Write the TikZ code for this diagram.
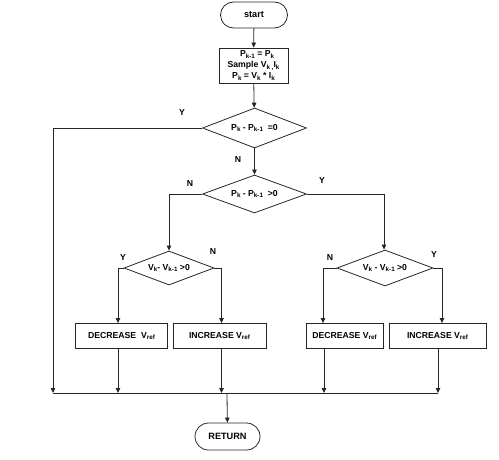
\documentclass[tikz,border=0pt]{standalone}
\usepackage{fontspec}
\setmainfont{Liberation Sans}
\usetikzlibrary{shapes.geometric,shapes.misc,arrows.meta}
\newcommand{\sbs}[1]{\raisebox{-0.25ex}{\fontsize{6.3}{7}\selectfont #1}}
\begin{document}
\begin{tikzpicture}[x=1bp,y=-1bp,
  every node/.style={font=\fontsize{8.7}{10}\selectfont\bfseries},
  line/.style={draw=black!85, line width=0.8bp},
  arr/.style={line, -{Triangle[length=5bp,width=4.5bp]}},
  term/.style={rounded rectangle, line, minimum width=67bp, minimum height=26bp, inner sep=0pt, font=\fontsize{9.2}{10}\selectfont\bfseries},
  proc/.style={rectangle, line, minimum height=25bp, inner sep=0pt},
  dec/.style={diamond, line, inner sep=0pt, aspect=2.6},
  lbl/.style={inner sep=0pt}]
\useasboundingbox (0,0) rectangle (499,460);
% nodes
\node[term] (start) at (254,15) {start};
\node[proc, minimum width=69bp, minimum height=35bp, align=center, font=\fontsize{8.7}{11}\selectfont\bfseries] (init) at (253.5,65.5)
  {\ \ \ P\sbs{k-1} = P\sbs{k}\\ Sample V\sbs{k ,}I\sbs{k}\\ P\sbs{k} = V\sbs{k} * I\sbs{k}};
\node[dec, minimum width=104bp, minimum height=40bp] (d1) at (254.5,128) {P\sbs{k} - P\sbs{k-1}\ \ =0};
\node[dec, minimum width=104bp, minimum height=38bp] (d2) at (254.5,194) {P\sbs{k} - P\sbs{k-1}\ \ >0};
\node[dec, minimum width=90bp, minimum height=34bp] (d3) at (169,268) {V\sbs{k}- V\sbs{k-1} >0};
\node[dec, minimum width=96bp, minimum height=36bp] (d4) at (385,268) {V\sbs{k} - V\sbs{k-1} >0};
\node[proc, minimum width=92bp] (dec1) at (121.5,336) {DECREASE\ \ V\sbs{ref}};
\node[proc, minimum width=93bp] (inc1) at (219.5,336) {INCREASE V\sbs{ref}};
\node[proc, minimum width=77bp] (dec2) at (344.5,336) {DECREASE V\sbs{ref}};
\node[proc, minimum width=97bp] (inc2) at (437.5,336) {INCREASE V\sbs{ref}};
\node[term, minimum width=65bp, minimum height=27bp] (ret) at (227.5,436.5) {RETURN};
% bus coordinates
\coordinate (busL) at (53,393);
\coordinate (busR) at (438,393);
\coordinate (busM) at (227,393);
% connectors
\draw[arr] (start) -- (init);
\draw[arr] (init) -- (d1);
\draw[arr] (d1.west) -| (busL);
\draw[arr] (d1) -- (d2);
\draw[arr] (d2.west) -| (d3.north);
\draw[arr] (d2.east) -| ([xshift=-1bp]d4.north);
\draw[arr] (d3.west) -| ([xshift=-3.5bp]dec1.north);
\draw[arr] (d3.east) -| ([xshift=2bp]inc1.north);
\draw[arr] (d4.west) -| ([xshift=-21.5bp]dec2.north);
\draw[arr] (d4.east) -| ([xshift=4.5bp]inc2.north);
\draw[arr] ([xshift=-3.5bp]dec1.south) -- ([xshift=-3.5bp]dec1.south |- busL);
\draw[arr] ([xshift=2bp]inc1.south) -- ([xshift=2bp]inc1.south |- busL);
\draw[arr] ([xshift=-20.5bp]dec2.south) -- ([xshift=-20.5bp]dec2.south |- busL);
\draw[arr] ([xshift=0.5bp]inc2.south) -- ([xshift=0.5bp]inc2.south |- busL);
\draw[line] (busL) -- (busR);
\draw[arr] (busM) -- (ret);
% labels
\node[lbl] (y1) at (182,113) {Y};
\node[lbl] (n1) at (238,160) {N};
\node[lbl] (n2) at (190,184) {N};
\node[lbl] (y2) at (322,181) {Y};
\node[lbl] (y3) at (123,258) {Y};
\node[lbl] (n3) at (213,252) {N};
\node[lbl] (n4) at (330,258) {N};
\node[lbl] (y4) at (434,255) {Y};
\end{tikzpicture}
\end{document}
